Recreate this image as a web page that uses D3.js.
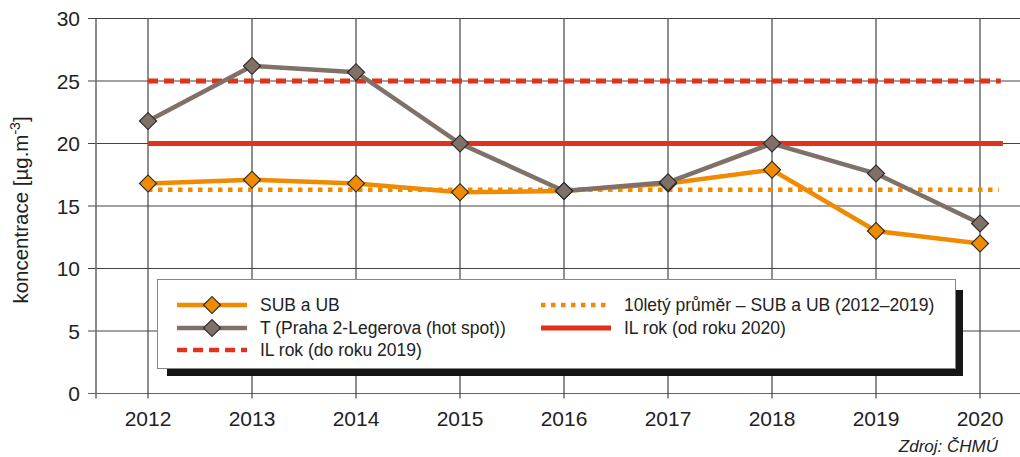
<!DOCTYPE html>
<html><head><meta charset="utf-8">
<script src="https://cdn.jsdelivr.net/npm/d3@7/dist/d3.min.js"></script>
<style>html,body{margin:0;padding:0;background:#fff;} svg{display:block;font-family:"Liberation Sans",Arial,sans-serif;}</style>
</head><body>
<script>
const years = [2012, 2013, 2014, 2015, 2016, 2017, 2018, 2019, 2020];
const subUb = [16.8, 17.1, 16.8, 16.1, 16.2, 16.8, 17.9, 13.0, 12.0];
const hotSpot = [21.8, 26.2, 25.7, 20.0, 16.2, 16.9, 20.0, 17.6, 13.6];
const avg10 = 16.3;
const ilOld = 25;
const ilNew = 20;
const yTicks = [0, 5, 10, 15, 20, 25, 30];
const legendLabels = ["SUB a UB", "T (Praha 2-Legerova (hot spot))", "IL rok (do roku 2019)", "10letý průměr – SUB a UB (2012–2019)", "IL rok (od roku 2020)"];

const W = 1020, H = 457;
const cOrange = "#f08a00", cGray = "#7f7168", cRed = "#e2311d", cGrid = "#444";

const svg = d3.select("body").append("svg").attr("width", W).attr("height", H);
const x = d3.scaleLinear().domain([2012, 2020]).range([148, 980]);
const y = d3.scaleLinear().domain([0, 30]).range([393.5, 18.5]);
const xL = x(2011.5), xR = x(2020.5);

// horizontal grid
svg.append("g").selectAll("line").data(yTicks).join("line")
  .attr("x1", xL - 8).attr("x2", xR)
  .attr("y1", d => y(d)).attr("y2", d => y(d))
  .attr("stroke", d => d === 0 ? "#666" : cGrid).attr("stroke-width", 1.2);
// vertical grid
svg.append("g").selectAll("line").data(years).join("line")
  .attr("x1", d => x(d)).attr("x2", d => x(d))
  .attr("y1", y(30)).attr("y2", y(0) + 5)
  .attr("stroke", cGrid).attr("stroke-width", 1.2);
// left axis
svg.append("line").attr("x1", xL).attr("x2", xL).attr("y1", y(30)).attr("y2", y(0) + 5)
  .attr("stroke", "#666").attr("stroke-width", 1.5);

// y tick labels
svg.append("g").selectAll("text").data(yTicks).join("text")
  .attr("x", xL - 16).attr("y", d => y(d)).attr("dy", "0.36em")
  .attr("text-anchor", "end").attr("font-size", 21).attr("fill", "#222").text(d => d);
// x tick labels
svg.append("g").selectAll("text").data(years).join("text")
  .attr("x", d => x(d)).attr("y", 426)
  .attr("text-anchor", "middle").attr("font-size", 21).attr("fill", "#222").text(d => d);

// y axis title
const yt = svg.append("text").attr("transform", `translate(28,210) rotate(-90)`)
  .attr("text-anchor", "middle").attr("font-size", 20.5).attr("fill", "#222");
yt.append("tspan").text("koncentrace [µg.m");
yt.append("tspan").attr("dy", -8).attr("font-size", 14).text("-3");
yt.append("tspan").attr("dy", 8).text("]");

// source
svg.append("text").attr("x", 998).attr("y", 452).attr("text-anchor", "end")
  .attr("font-size", 17).attr("font-style", "italic").attr("fill", "#222").text("Zdroj: ČHMÚ");

// reference lines
svg.append("line").attr("x1", x(2012)).attr("x2", x(2020.2)).attr("y1", y(ilOld)).attr("y2", y(ilOld))
  .attr("stroke", cRed).attr("stroke-width", 5).attr("stroke-dasharray", "10,6");
svg.append("line").attr("x1", x(2012)).attr("x2", x(2020.22)).attr("y1", y(ilNew)).attr("y2", y(ilNew))
  .attr("stroke", cRed).attr("stroke-width", 5);
svg.append("line").attr("x1", x(2012)).attr("x2", x(2020.18)).attr("y1", y(avg10)).attr("y2", y(avg10))
  .attr("stroke", cOrange).attr("stroke-width", 4.5).attr("stroke-dasharray", "4.5,5.5");

const line = d3.line().x((d, i) => x(years[i])).y(d => y(d));
svg.append("path").datum(subUb).attr("d", line).attr("fill", "none").attr("stroke", cOrange).attr("stroke-width", 4.5);
svg.append("path").datum(hotSpot).attr("d", line).attr("fill", "none").attr("stroke", cGray).attr("stroke-width", 4.5);

function diamond(g, cx, cy, fill) {
  g.append("path").attr("d", d3.symbol().type(d3.symbolSquare).size(145)())
    .attr("transform", `translate(${cx},${cy}) rotate(45)`)
    .attr("fill", fill).attr("stroke", "#2a2a2a").attr("stroke-width", 1.2);
}
const mk = svg.append("g");
subUb.forEach((v, i) => diamond(mk, x(years[i]), y(v), cOrange));
hotSpot.forEach((v, i) => diamond(mk, x(years[i]), y(v), cGray));

// legend
const lg = svg.append("g");
lg.append("rect").attr("x", 167).attr("y", 290).attr("width", 796).attr("height", 86).attr("fill", "#161616");
lg.append("rect").attr("x", 157.5).attr("y", 279.5).attr("width", 798).attr("height", 89).attr("fill", "#fff").attr("stroke", "#888").attr("stroke-width", 1);
const items = [
  {x: 177, y: 305, color: cOrange, dash: null, w: 4.5, marker: cOrange, label: legendLabels[0]},
  {x: 177, y: 328, color: cGray, dash: null, w: 4.5, marker: cGray, label: legendLabels[1]},
  {x: 177, y: 350, color: cRed, dash: "10,6", w: 4.5, marker: null, label: legendLabels[2]},
  {x: 541, y: 305, color: cOrange, dash: "4.5,5.5", w: 4.5, marker: null, label: legendLabels[3]},
  {x: 541, y: 328, color: cRed, dash: null, w: 5, marker: null, label: legendLabels[4]}
];
items.forEach(it => {
  lg.append("line").attr("x1", it.x).attr("x2", it.x + 70).attr("y1", it.y).attr("y2", it.y)
    .attr("stroke", it.color).attr("stroke-width", it.w).attr("stroke-dasharray", it.dash);
  if (it.marker) diamond(lg, it.x + 35, it.y, it.marker);
  lg.append("text").attr("x", it.x + 83).attr("y", it.y).attr("dy", "0.36em")
    .attr("font-size", 17.5).attr("fill", "#222").text(it.label);
});
</script>
</body></html>
